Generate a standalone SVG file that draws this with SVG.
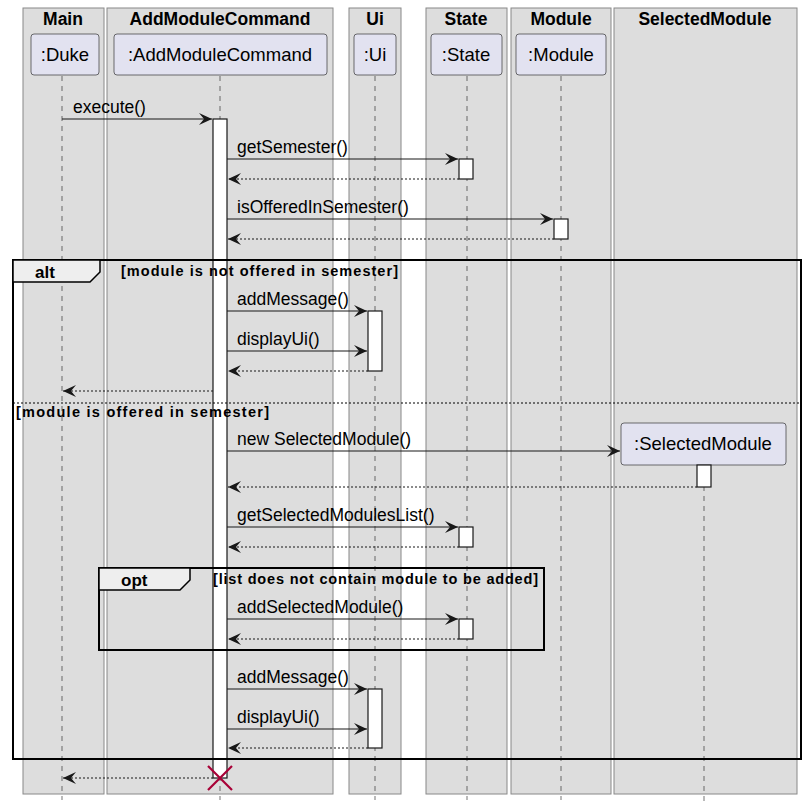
<svg xmlns="http://www.w3.org/2000/svg" width="809" height="811" viewBox="0 0 809 811">
<style>
text{font-family:"Liberation Sans",Arial,sans-serif;fill:#000}
.box{fill:#dddddd;stroke:#888;stroke-width:1}
.bt{font-size:17.5px;font-weight:bold;text-anchor:middle}
.p rect{fill:#e2e2f0;stroke:#181818;stroke-width:0.6}
.p text{font-size:18.5px;text-anchor:middle}
.ll{stroke:#181818;stroke-width:0.6;stroke-dasharray:5,5}
.act{fill:#fff;stroke:#181818;stroke-width:1.2}
.m{stroke:#181818;stroke-width:1.2;fill:none}
.r{stroke:#181818;stroke-width:1.2;fill:none;stroke-dasharray:2,2}
.ml{font-size:17.5px}
.fr{fill:none;stroke:#000;stroke-width:2}
.ft{font-size:17px;font-weight:bold}
.ct{font-size:14.5px;font-weight:bold}
</style>
<defs>
<marker id="ah" markerWidth="14" markerHeight="12" refX="13" refY="6" orient="auto" markerUnits="userSpaceOnUse"><path d="M0,0 L13,6 L0,12 L5,6 Z" fill="#181818"/></marker>
</defs>
<g id="boxes">
<rect class="box" x="23" y="8" width="81" height="786"/><text class="bt" x="63" y="25">Main</text>
<rect class="box" x="107" y="8" width="226" height="786"/><text class="bt" x="220" y="25">AddModuleCommand</text>
<rect class="box" x="349" y="8" width="52" height="786"/><text class="bt" x="375" y="25">Ui</text>
<rect class="box" x="426" y="8" width="81" height="786"/><text class="bt" x="466" y="25">State</text>
<rect class="box" x="511" y="8" width="100" height="786"/><text class="bt" x="561" y="25">Module</text>
<rect class="box" x="614" y="8" width="183" height="786"/><text class="bt" x="705" y="25">SelectedModule</text>
</g>
<g id="lifelines">
<line class="ll" x1="62" y1="76" x2="62" y2="800"/>
<line class="ll" x1="220" y1="76" x2="220" y2="800"/>
<line class="ll" x1="375" y1="76" x2="375" y2="800"/>
<line class="ll" x1="467" y1="76" x2="467" y2="800"/>
<line class="ll" x1="561" y1="76" x2="561" y2="800"/>
<line class="ll" x1="704" y1="466" x2="704" y2="804"/>
</g>
<g id="Duke" class="p"><rect x="31" y="34" width="68" height="41" rx="3"/><text x="65" y="61">:Duke</text></g>
<g id="AddModuleCommand" class="p"><rect x="114" y="34" width="213" height="41" rx="3"/><text x="220" y="61">:AddModuleCommand</text></g>
<g id="Ui" class="p"><rect x="354" y="34" width="42" height="41" rx="3"/><text x="375" y="61">:Ui</text></g>
<g id="State" class="p"><rect x="431" y="34" width="71" height="41" rx="3"/><text x="466" y="61">:State</text></g>
<g id="Module" class="p"><rect x="516" y="34" width="90" height="41" rx="3"/><text x="561" y="61">:Module</text></g>
<g id="SelectedModule" class="p"><rect x="621" y="423" width="165" height="42" rx="3"/><text x="703" y="450">:SelectedModule</text></g>
<g id="activations">
<rect class="act" x="213" y="119" width="14" height="659"/>
<rect class="act" x="459" y="159" width="14" height="20"/>
<rect class="act" x="554" y="219" width="14" height="20"/>
<rect class="act" x="368" y="311" width="14" height="60"/>
<rect class="act" x="697" y="465" width="14" height="22"/>
<rect class="act" x="459" y="527" width="14" height="20"/>
<rect class="act" x="459" y="619" width="14" height="20"/>
<rect class="act" x="368" y="689" width="14" height="59"/>
</g>
<g id="frames">
<rect class="fr" x="13" y="260" width="788" height="499"/>
<path d="M13,260 H100 V272 L90,282 H13 Z" fill="#eeeeee" stroke="#000" stroke-width="1.5"/>
<text class="ft" x="35" y="278">alt</text>
<text class="ct" x="121" y="276" textLength="277" lengthAdjust="spacing">[module is not offered in semester]</text>
<line x1="13" y1="403" x2="801" y2="403" stroke="#000" stroke-width="1" stroke-dasharray="2,2"/>
<text class="ct" x="16" y="417" textLength="253" lengthAdjust="spacing">[module is offered in semester]</text>
<rect class="fr" x="99" y="568" width="445" height="82"/>
<path d="M99,568 H190 V580 L180,590 H99 Z" fill="#eeeeee" stroke="#000" stroke-width="1.5"/>
<text class="ft" x="121" y="586">opt</text>
<text class="ct" x="213" y="584" textLength="325" lengthAdjust="spacing">[list does not contain module to be added]</text>
</g>
<g id="connectors">
<line class="m" x1="62" y1="119" x2="212" y2="119" marker-end="url(#ah)"/><text class="ml" x="73" y="113">execute()</text>
<line class="m" x1="227" y1="159" x2="458" y2="159" marker-end="url(#ah)"/><text class="ml" x="237" y="153">getSemester()</text>
<line class="r" x1="459" y1="179" x2="228" y2="179" marker-end="url(#ah)"/>
<line class="m" x1="227" y1="219" x2="553" y2="219" marker-end="url(#ah)"/><text class="ml" x="237" y="213">isOfferedInSemester()</text>
<line class="r" x1="554" y1="239" x2="228" y2="239" marker-end="url(#ah)"/>
<line class="m" x1="227" y1="311" x2="367" y2="311" marker-end="url(#ah)"/><text class="ml" x="237" y="305">addMessage()</text>
<line class="m" x1="227" y1="351" x2="367" y2="351" marker-end="url(#ah)"/><text class="ml" x="237" y="345">displayUi()</text>
<line class="r" x1="368" y1="371" x2="228" y2="371" marker-end="url(#ah)"/>
<line class="r" x1="213" y1="391" x2="63" y2="391" marker-end="url(#ah)"/>
<line class="m" x1="227" y1="451" x2="620" y2="451" marker-end="url(#ah)"/><text class="ml" x="237" y="445">new SelectedModule()</text>
<line class="r" x1="697" y1="487" x2="228" y2="487" marker-end="url(#ah)"/>
<line class="m" x1="227" y1="527" x2="458" y2="527" marker-end="url(#ah)"/><text class="ml" x="237" y="521">getSelectedModulesList()</text>
<line class="r" x1="459" y1="547" x2="228" y2="547" marker-end="url(#ah)"/>
<line class="m" x1="227" y1="619" x2="458" y2="619" marker-end="url(#ah)"/><text class="ml" x="237" y="613">addSelectedModule()</text>
<line class="r" x1="459" y1="639" x2="228" y2="639" marker-end="url(#ah)"/>
<line class="m" x1="227" y1="689" x2="367" y2="689" marker-end="url(#ah)"/><text class="ml" x="237" y="683">addMessage()</text>
<line class="m" x1="227" y1="729" x2="367" y2="729" marker-end="url(#ah)"/><text class="ml" x="237" y="723">displayUi()</text>
<line class="r" x1="368" y1="748" x2="228" y2="748" marker-end="url(#ah)"/>
<line class="r" x1="213" y1="778" x2="63" y2="778" marker-end="url(#ah)"/>
<path d="M208,766 L232,790 M232,766 L208,790" stroke="#a80036" stroke-width="2.2"/>
</g>
</svg>
